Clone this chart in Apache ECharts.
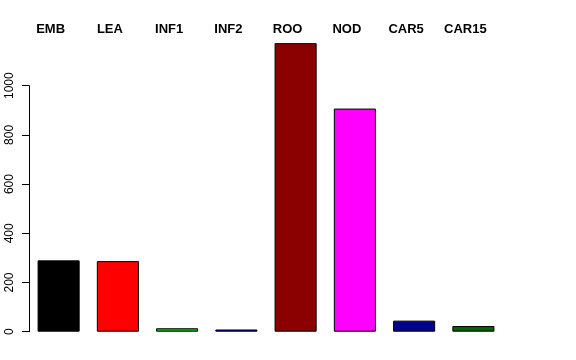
<!DOCTYPE html>
<html><head><meta charset="utf-8">
<script src="https://cdn.jsdelivr.net/npm/echarts@6/dist/echarts.min.js"></script>
<style>html,body{margin:0;padding:0;background:#fff}#c{width:576px;height:360px}</style>
</head><body><div id="c"></div>
<script>
var categories = ["EMB","LEA","INF1","INF2","ROO","NOD","CAR5","CAR15"];
var values = [290, 287, 14, 9, 1173, 907, 45, 23];
var colors = ["#000000","#FF0000","#00CD00","#0000FF","#8B0000","#FF00FF","#00008B","#006400"];
var yTicks = [0, 200, 400, 600, 800, 1000];

var chart = echarts.init(document.getElementById('c'), null, {renderer:'canvas'});
chart.setOption({
  animation:false,
  grid:{left:29, right:73, top:85.7, bottom:28.3},
  xAxis:{
    type:'category', data:categories, position:'top',
    axisLine:{show:false}, axisTick:{show:false},
    axisLabel:{fontFamily:'Liberation Sans, Arial, sans-serif', fontWeight:'bold', fontSize:13, color:'#000', margin:50, padding:[0,16,0,0], interval:0}
  },
  yAxis:{
    type:'value', min:yTicks[0], max:yTicks[yTicks.length-1], interval:200,
    splitLine:{show:false},
    axisLine:{show:true, lineStyle:{color:'#000', width:1}},
    axisTick:{show:true, inside:false, length:7, lineStyle:{color:'#000'}},
    axisLabel:{rotate:90, fontFamily:'Liberation Sans, Arial, sans-serif', fontSize:12, color:'#000', margin:13,
      formatter:function(v){return String(v);}}
  },
  series:[{
    type:'bar', clip:false, barCategoryGap:'29%',
    data: values.map(function(v,i){return {value:v, itemStyle:{color:colors[i]}};}),
    itemStyle:{borderColor:'#000', borderWidth:1}
  }]
});
</script></body></html>
